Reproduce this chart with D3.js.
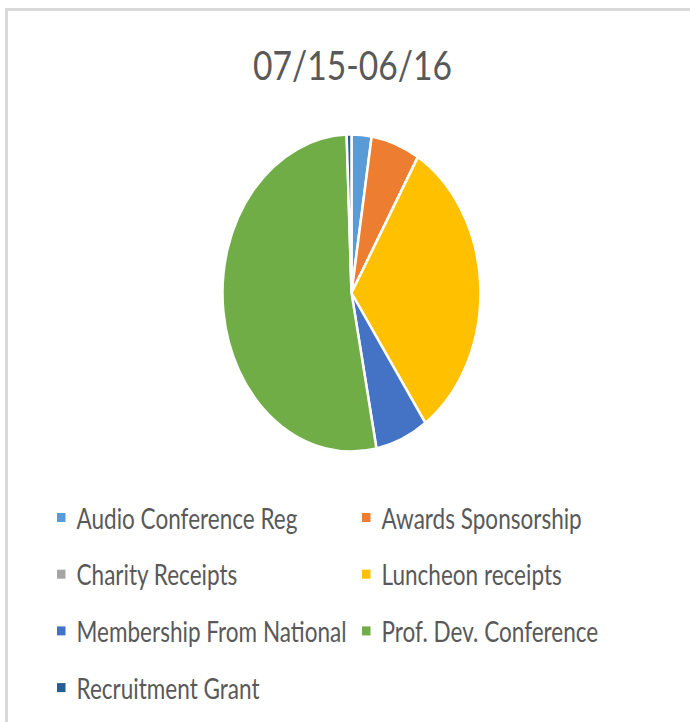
<!DOCTYPE html>
<html><head><meta charset="utf-8">
<script src="https://cdn.jsdelivr.net/npm/d3@7"></script>
<style>html,body{margin:0;padding:0;background:#fff;}svg{display:block;}</style>
</head><body>
<script>
const title = "07/15-06/16";
const categories = ["Audio Conference Reg","Awards Sponsorship","Charity Receipts","Luncheon receipts","Membership From National","Prof. Dev. Conference","Recruitment Grant"];
const values = [2.5, 6.1, 0, 31.7, 6.6, 52.5, 0.6];
const colors = ["#5B9BD5","#ED7D31","#A5A5A5","#FFC000","#4472C4","#70AD47","#255E91"];

const W = 690, H = 722;
const svg = d3.select("body").append("svg").attr("width", W).attr("height", H);
const FONT = "Lato, 'Open Sans', sans-serif";

// chart border
svg.append("rect").attr("x", 6.5).attr("y", 9.5).attr("width", W + 10).attr("height", H + 10)
  .attr("fill", "#fff").attr("stroke", "#d9d9d9").attr("stroke-width", 3);

// title
const tt = svg.append("text").text(title)
  .attr("font-family", FONT).attr("font-size", 40).attr("fill", "#595959")
  .attr("text-anchor", "start");
{
  const w = tt.node().getComputedTextLength();
  const sx = 199 / w;
  tt.attr("transform", `translate(253,80) scale(${sx},1)`);
}

// pie (stretched vertically as in the reference)
const cx = 351.5, cy = 293, rx = 129, ry = 158.5;
const pie = d3.pie().sort(null).value(d => d)(values);
const arc = d3.arc().innerRadius(0).outerRadius(rx);
const colorScale = d3.scaleOrdinal().domain(categories).range(colors);
svg.append("g").attr("transform", `translate(${cx},${cy}) scale(1,${ry / rx})`)
  .selectAll("path").data(pie).join("path")
  .attr("d", arc)
  .attr("fill", (d, i) => colorScale(categories[i]))
  .attr("stroke", "#fff").attr("stroke-width", 2.5)
  .attr("vector-effect", "non-scaling-stroke");

// legend
const colX = [57, 362], row0 = 528.5, rowStep = 56.7;
const lg = svg.append("g");
let sxL = null;
categories.forEach((c, i) => {
  const col = i % 2, row = Math.floor(i / 2);
  const x = colX[col], y = row0 + row * rowStep;
  lg.append("rect").attr("x", x).attr("y", y - 15.5).attr("width", 8.5).attr("height", 9)
    .attr("fill", colorScale(c));
  const t = lg.append("text").text(c)
    .attr("font-family", FONT).attr("font-size", 28.5).attr("fill", "#595959");
  if (sxL === null) sxL = 221 / t.node().getComputedTextLength();
  t.attr("transform", `translate(${x + 19.5},${y}) scale(${sxL},1)`);
});
</script>
</body></html>
